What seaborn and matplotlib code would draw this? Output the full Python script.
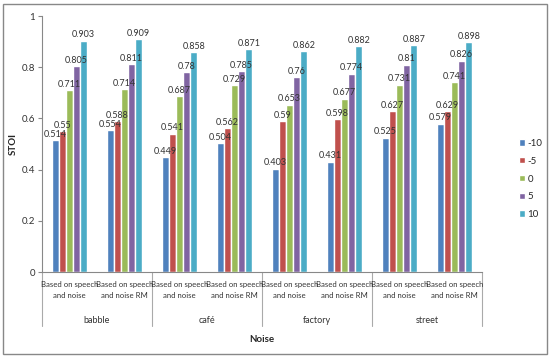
import numpy as np
import pandas as pd
import matplotlib
matplotlib.use("Agg")
import matplotlib.pyplot as plt
from matplotlib.patches import Rectangle
import seaborn as sns

noises = ["babble", "café", "factory", "street"]
methods = ["Based on speech\nand noise", "Based on speech\nand noise RM"]
snrs = ["-10", "-5", "0", "5", "10"]

v_m10 = [0.514, 0.554, 0.449, 0.504, 0.403, 0.431, 0.525, 0.579]
v_m5 = [0.55, 0.588, 0.541, 0.562, 0.59, 0.598, 0.627, 0.629]
v_0 = [0.711, 0.714, 0.687, 0.729, 0.653, 0.677, 0.731, 0.741]
v_5 = [0.805, 0.811, 0.78, 0.785, 0.76, 0.774, 0.81, 0.826]
v_10 = [0.903, 0.909, 0.858, 0.871, 0.862, 0.882, 0.887, 0.898]

colors = ["#4F81BD", "#C0504D", "#9BBB59", "#8064A2", "#4BACC6"]

cats = [f"{n}|{m}" for n in noises for m in methods]
rows = []
for snr, vals in zip(snrs, [v_m10, v_m5, v_0, v_5, v_10]):
    for c, v in zip(cats, vals):
        rows.append({"cat": c, "snr": snr, "val": v})
df = pd.DataFrame(rows)

sns.set_style("white")
plt.rcParams["font.family"] = ["Lato", "DejaVu Sans"]

fig = plt.figure(figsize=(5.5, 3.59), dpi=100)
ax = fig.add_axes([42/550, 1-272/359, 440/550, 256/359])
sns.barplot(data=df, x="cat", y="val", hue="snr", order=cats, hue_order=snrs,
            palette=colors, width=0.65, ax=ax, saturation=1, legend=True)
ax.set_xlim(-0.5, len(cats) - 0.5)
ax.set_ylim(0, 1)
ax.set_yticks(np.arange(0, 1.01, 0.2))
ax.set_yticklabels(["0", "0.2", "0.4", "0.6", "0.8", "1"], fontsize=7, color="#333333")
ax.tick_params(axis="y", length=3, width=0.8, color="#888888", pad=2, direction="out", left=True)
ax.set_xticks([])
ax.set_xlabel("")
ax.set_ylabel("STOI", fontsize=7, fontweight="bold")
ax.yaxis.set_label_coords(-0.055, 0.5)
for s in ["top", "right"]:
    ax.spines[s].set_visible(False)
for s in ["left", "bottom"]:
    ax.spines[s].set_color("#888888")
    ax.spines[s].set_linewidth(0.8)

for cont in ax.containers:
    ax.bar_label(cont, fmt="%g", fontsize=6.5, padding=1, color="#333333")

trans = ax.get_xaxis_transform()
for i, c in enumerate(cats):
    n, m = c.split("|")
    ax.text(i, -0.035, m, transform=trans, ha="center", va="top", fontsize=5.6,
            color="#333333", linespacing=1.6)
for j, n in enumerate(noises):
    ax.text(2*j + 0.5, -0.17, n, transform=trans, ha="center", va="top",
            fontsize=6.5, color="#333333")
for b in np.arange(-0.5, len(cats), 2):
    ax.plot([b, b], [0, -0.21], transform=trans, color="#AAAAAA", lw=0.8, clip_on=False)
ax.text(3.5, -0.245, "Noise", transform=trans, ha="center", va="top",
        fontsize=7, fontweight="bold")

handles, labels = ax.get_legend_handles_labels()
ax.legend(handles, labels, loc="center left", bbox_to_anchor=(510/550, 1-179/359),
          bbox_transform=fig.transFigure, frameon=False, fontsize=7,
          handlelength=0.6, handleheight=0.6, handletextpad=0.3, labelspacing=0.9)

fig.patches.append(Rectangle((3/550, 5/359), 544/550, 350/359, transform=fig.transFigure,
                             fill=False, edgecolor="#888888", lw=1))
fig.savefig("out.png", dpi=100)
